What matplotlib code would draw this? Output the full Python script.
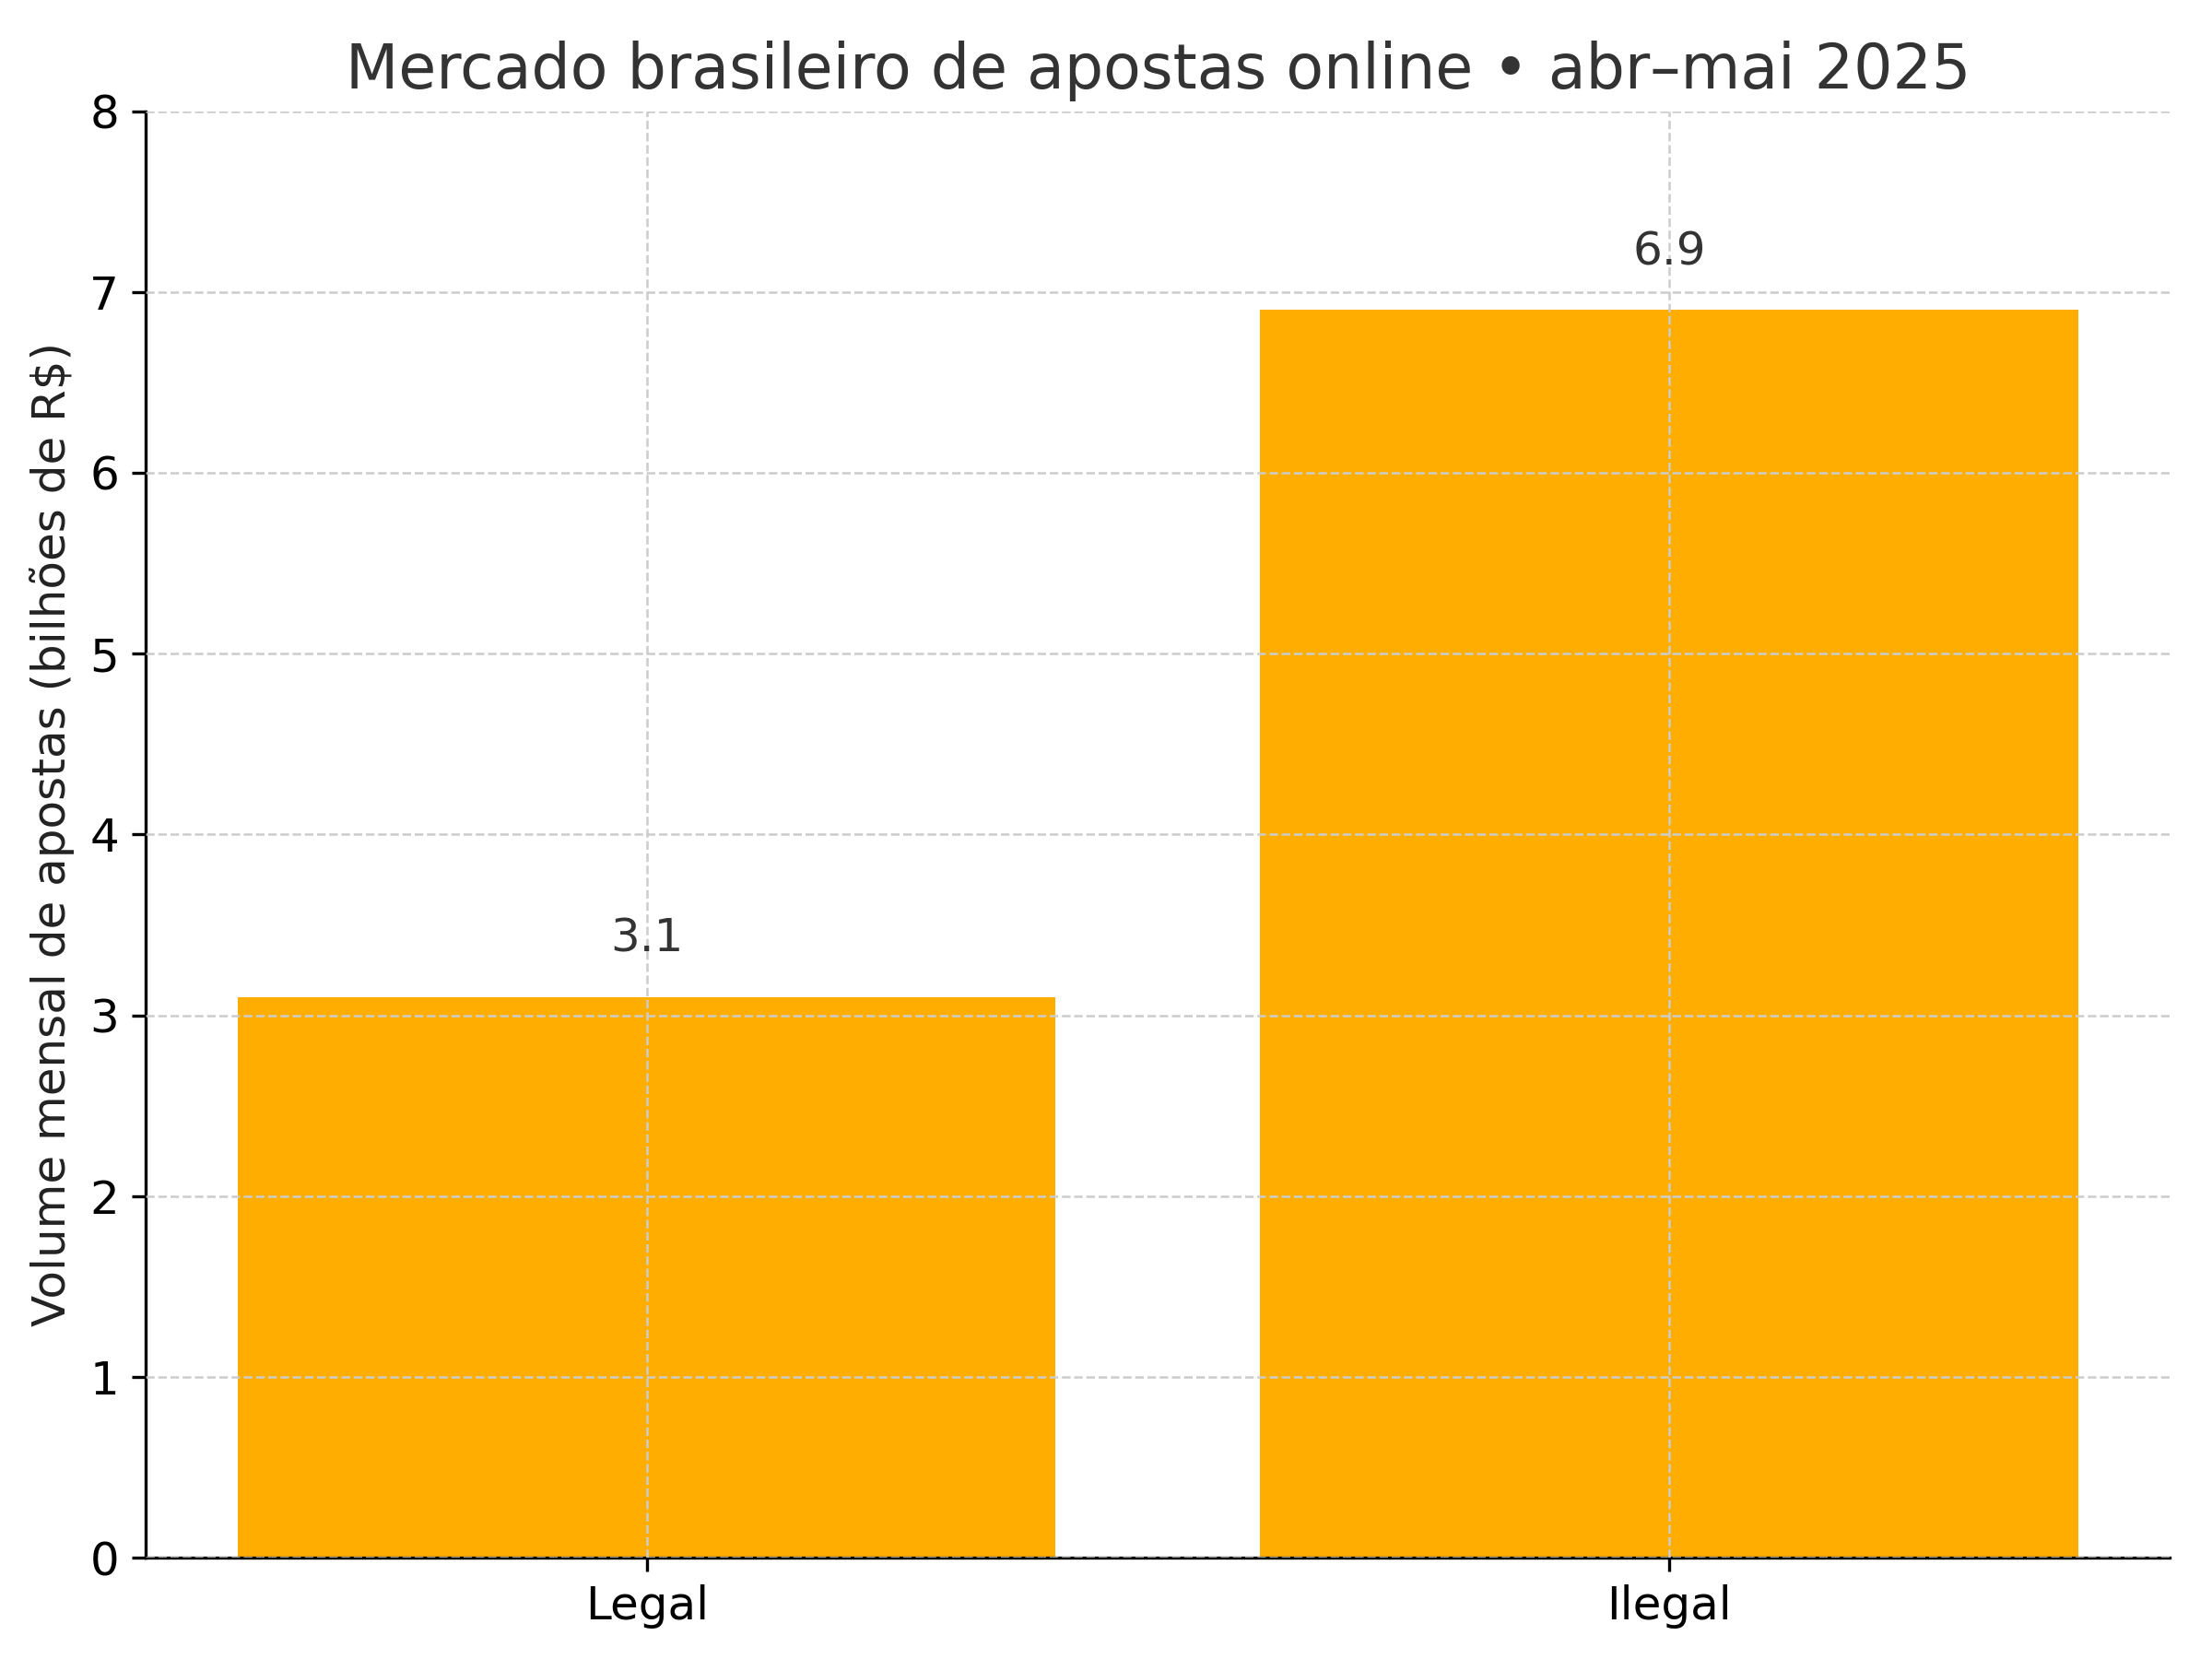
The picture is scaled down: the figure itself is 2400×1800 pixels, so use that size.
import matplotlib
matplotlib.use("Agg")
import matplotlib.pyplot as plt

categories = ["Legal", "Ilegal"]
values = [3.1, 6.9]

fig = plt.figure(figsize=(8, 6), dpi=300)
ax = fig.add_axes([0.066, 0.061, 0.915, 0.872])
bars = ax.bar(categories, values, color="#FFAE00", width=0.8, zorder=2)
for b, v in zip(bars, values):
    ax.text(b.get_x() + b.get_width()/2, v + 0.2, f"{v:.1f}", ha="center", va="bottom",
            fontsize=12, color="#333333", zorder=3)
ax.set_ylim(0, 8)
ax.grid(True, linestyle="--", color="#cccccc", linewidth=0.6, zorder=0)
ax.set_axisbelow(False)
for b in bars:
    b.set_zorder(1)
ax.spines["top"].set_visible(False)
ax.spines["right"].set_visible(False)
ax.set_ylabel("Volume mensal de apostas (bilhões de R$)", fontsize=12, color="#222222")
ax.set_title("Mercado brasileiro de apostas online • abr–mai 2025", fontsize=16, color="#333333")
ax.tick_params(labelsize=12)
fig.savefig("out.png", dpi=300)
